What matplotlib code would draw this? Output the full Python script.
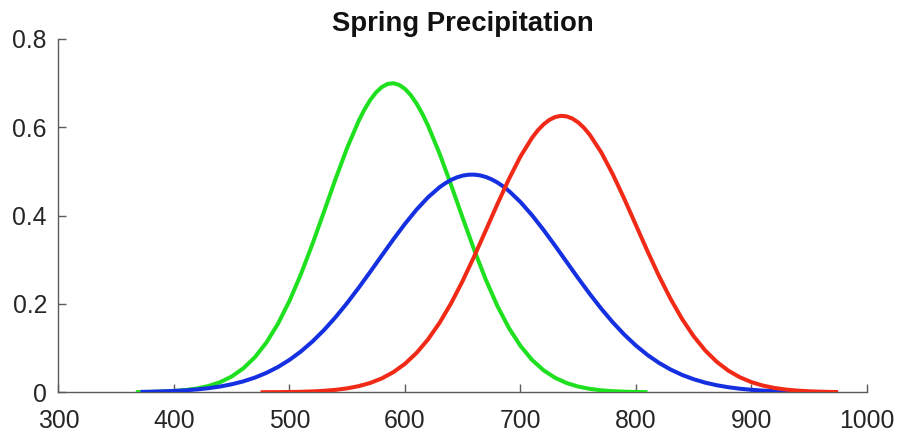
import matplotlib
matplotlib.use("Agg")
import matplotlib.pyplot as plt

# Fitted precipitation densities (value x100) for three groups
green_x = [367, 380, 390, 400, 410, 420, 430, 440, 450, 460, 470, 480, 490, 500,
           510, 520, 530, 540, 550, 560, 565, 570, 575, 580, 585, 590, 595, 600,
           605, 610, 615, 620, 630, 640, 650, 660, 670, 680, 690, 700, 710, 720,
           730, 740, 750, 760, 770, 780, 790, 800, 810]
green_y = [0.0004, 0.0008, 0.0016, 0.0029, 0.0051, 0.0086, 0.0143, 0.0230, 0.0358,
           0.0541, 0.0792, 0.1125, 0.1549, 0.2068, 0.2679, 0.3364, 0.4096, 0.4837,
           0.5538, 0.6149, 0.6405, 0.6621, 0.6791, 0.6912, 0.6982, 0.6998, 0.6960,
           0.6870, 0.6729, 0.6540, 0.6308, 0.6037, 0.5404, 0.4690, 0.3948, 0.3222,
           0.2550, 0.1957, 0.1456, 0.1051, 0.0735, 0.0499, 0.0328, 0.0209, 0.0130,
           0.0078, 0.0045, 0.0025, 0.0014, 0.0007, 0.0004]

blue_x = [371, 380, 390, 400, 410, 420, 430, 440, 450, 460, 470, 480, 490, 500,
          510, 520, 530, 540, 550, 560, 570, 580, 590, 600, 610, 620, 630, 635,
          640, 645, 650, 655, 660, 665, 670, 675, 680, 685, 690, 700, 710, 720,
          730, 740, 750, 760, 770, 780, 790, 800, 810, 820, 830, 840, 850, 860,
          870, 880, 890, 900, 910, 920, 930, 940, 950, 960, 970, 975]
blue_y = [0.00088, 0.00135, 0.00205, 0.00306, 0.00451, 0.00653, 0.00932, 0.01311,
          0.01813, 0.02473, 0.03319, 0.04389, 0.05717, 0.07333, 0.09261, 0.11521,
          0.14115, 0.17031, 0.20238, 0.23685, 0.27297, 0.30986, 0.34637, 0.38134,
          0.41348, 0.44156, 0.46438, 0.47349, 0.48096, 0.48668, 0.49060, 0.49266,
          0.49285, 0.49116, 0.48761, 0.48224, 0.47512, 0.46631, 0.45593, 0.43089,
          0.40105, 0.36763, 0.33188, 0.29507, 0.25837, 0.22281, 0.18923, 0.15827,
          0.13038, 0.10577, 0.08451, 0.06650, 0.05153, 0.03933, 0.02956, 0.02188,
          0.01595, 0.01146, 0.00810, 0.00564, 0.00387, 0.00261, 0.00174, 0.00114,
          0.00073, 0.00047, 0.00029, 0.00023]

red_x = [475, 480, 490, 500, 510, 520, 530, 540, 550, 560, 570, 580, 590, 600,
         610, 620, 630, 640, 650, 660, 670, 680, 690, 700, 710, 715, 720, 725,
         730, 735, 740, 745, 750, 755, 760, 770, 780, 790, 800, 810, 820, 830,
         840, 850, 860, 870, 880, 890, 900, 910, 920, 930, 940, 950, 960, 970, 975]
red_y = [0.00015, 0.00020, 0.00037, 0.00067, 0.00118, 0.00203, 0.00341, 0.00559,
         0.00893, 0.01393, 0.02120, 0.03149, 0.04563, 0.06453, 0.08903, 0.11985,
         0.15743, 0.20178, 0.25233, 0.30790, 0.36660, 0.42584, 0.48268, 0.53387,
         0.57611, 0.59298, 0.60662, 0.61677, 0.62324, 0.62592, 0.62477, 0.61980,
         0.61111, 0.59884, 0.58323, 0.54312, 0.49350, 0.43752, 0.37848, 0.31946,
         0.26310, 0.21142, 0.16577, 0.12682, 0.09467, 0.06896, 0.04901, 0.03398,
         0.02299, 0.01518, 0.00978, 0.00615, 0.00377, 0.00226, 0.00132, 0.00075,
         0.00056]

x_ticks = [300, 400, 500, 600, 700, 800, 900, 1000]
y_ticks = [0, 0.2, 0.4, 0.6, 0.8]
y_tick_labels = ["0", "0.2", "0.4", "0.6", "0.8"]

plt.rcParams["font.family"] = ["Liberation Sans", "DejaVu Sans"]

fig = plt.figure(figsize=(8.98, 4.37), dpi=100)
ax = fig.add_axes([0.0651, 0.1023, 0.9003, 0.8085])

lw = 2.9
ax.plot(green_x, green_y, color="#1ee01e", lw=lw, zorder=3, solid_capstyle="butt")
ax.plot(blue_x, blue_y, color="#1530e0", lw=lw, zorder=4, solid_capstyle="butt")
ax.plot(red_x, red_y, color="#f02a17", lw=lw, zorder=5, solid_capstyle="butt")

ax.set_xlim(300, 1000)
ax.set_ylim(0, 0.8)
ax.set_xticks(x_ticks)
ax.set_xticklabels([str(v) for v in x_ticks])
ax.set_yticks(y_ticks)
ax.set_yticklabels(y_tick_labels)

for s in ("top", "right"):
    ax.spines[s].set_visible(False)
for s in ("left", "bottom"):
    ax.spines[s].set_color("#5a5a5a")
    ax.spines[s].set_linewidth(1.0)

ax.tick_params(axis="both", direction="in", length=5.5, width=1.0,
               color="#5a5a5a", labelcolor="#262626", labelsize=17.8)
ax.tick_params(axis="x", pad=12)
ax.tick_params(axis="y", pad=8.3)

ax.set_title("Spring Precipitation", fontsize=19.8, fontweight="bold",
             color="#111111", pad=6)

fig.savefig("out.png", dpi=100, facecolor="white")
